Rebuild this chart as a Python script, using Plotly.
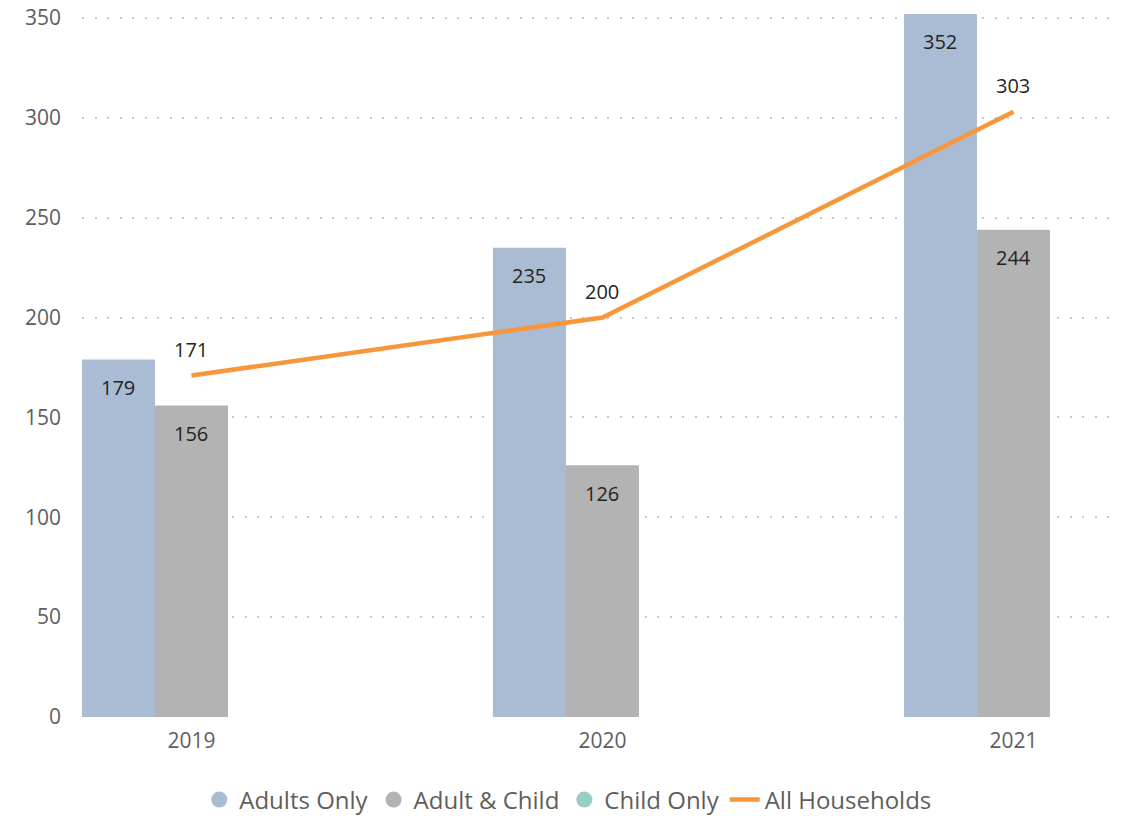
import plotly.graph_objects as go

years = ["2019", "2020", "2021"]
adults_only = [179, 235, 352]
adult_child = [156, 126, 244]
child_only = [0, 0, 0]
all_households = [171, 200, 303]

c_adults = "#A9BCD3"
c_adchild = "#B3B3B3"
c_child = "#9ACCC8"
c_all = "#F7963B"
FONT = "'Segoe UI', 'Open Sans', sans-serif"

fig = go.Figure()
fig.add_bar(x=years, y=adults_only, name="Adults Only", marker=dict(color=c_adults, line_width=0), showlegend=False)
fig.add_bar(x=years, y=adult_child, name="Adult & Child", marker=dict(color=c_adchild, line_width=0), showlegend=False)
fig.add_bar(x=years, y=child_only, name="Child Only", marker=dict(color=c_child, line_width=0), showlegend=False)
fig.add_scatter(x=years, y=all_households, mode="lines", name="All Households",
                line=dict(color=c_all, width=4.5), showlegend=False)

# legend entries (circle markers for bars)
for nm, col in [("Adults Only", c_adults), ("Adult & Child", c_adchild), ("Child Only", c_child)]:
    fig.add_scatter(x=[None], y=[None], mode="markers", name=nm,
                    marker=dict(symbol="circle", size=19, color=col))
fig.add_scatter(x=[None], y=[None], mode="lines", name="All Households",
                line=dict(color=c_all, width=4.5))

lab_font = dict(size=20, color="#252423", family=FONT)
anns = []
for i, v in enumerate(adults_only):
    anns.append(dict(x=i, y=v, xref="x", yref="y", text=str(v), showarrow=False,
                     xshift=-73, yshift=-28, yanchor="middle", font=lab_font))
for i, v in enumerate(adult_child):
    anns.append(dict(x=i, y=v, xref="x", yref="y", text=str(v), showarrow=False,
                     xshift=0, yshift=-28, yanchor="middle", font=lab_font))
for i, v in enumerate(all_households):
    anns.append(dict(x=i, y=v, xref="x", yref="y", text=str(v), showarrow=False,
                     xshift=0, yshift=26, yanchor="middle", font=lab_font))

fig.update_layout(
    width=1132, height=816,
    margin=dict(l=82, r=14, t=8, b=99),
    paper_bgcolor="white", plot_bgcolor="white",
    barmode="group", bargap=0.467, bargroupgap=0,
    font=dict(family=FONT, color="#605E5C"),
    annotations=anns,
    legend=dict(orientation="h", xref="container", x=0.502, xanchor="center",
                yref="container", y=0.0196, yanchor="middle",
                font=dict(size=24, color="#605E5C", family=FONT), itemwidth=30,
                traceorder="normal"),
    xaxis=dict(type="category", range=[-0.2664, 2.2543], showgrid=False, zeroline=False,
               showline=False, ticks="", automargin=False, ticklabeloverflow="allow",
               ticklabelstandoff=9,
               tickfont=dict(size=21, color="#605E5C")),
    yaxis=dict(range=[0, 355], tickvals=[0, 50, 100, 150, 200, 250, 300, 350],
               showgrid=True, gridcolor="#C8C8C8", gridwidth=1.5, griddash="2px,10.5px",
               zeroline=False, showline=False, ticks="", ticklabelstandoff=20, automargin=False,
               ticklabeloverflow="allow",
               tickfont=dict(size=21, color="#605E5C")),
)

fig.write_html("out.html", config={"displayModeBar": False},
               post_script="document.body.style.margin='0';")
